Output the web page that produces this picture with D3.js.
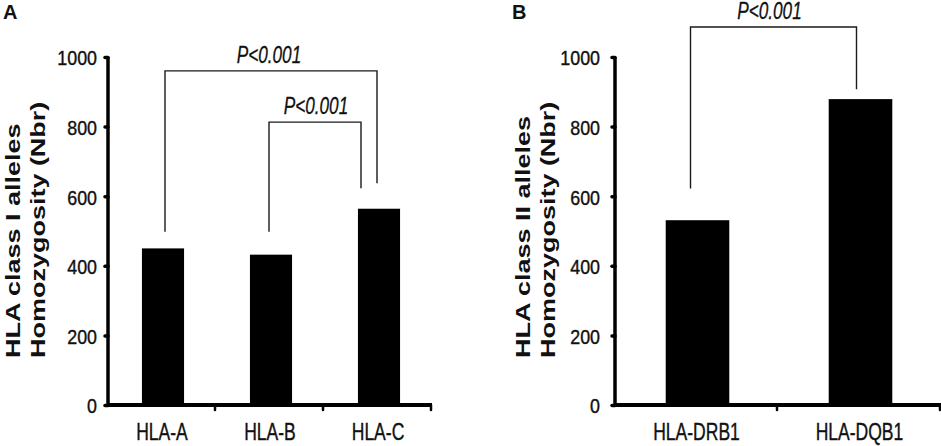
<!DOCTYPE html>
<html>
<head>
<meta charset="utf-8">
<script src="https://cdn.jsdelivr.net/npm/d3@7"></script>
<style>
  html, body { margin: 0; padding: 0; background: #fff; }
  svg { display: block; }
  text { font-family: "Liberation Sans", Arial, sans-serif; fill: #111; }
</style>
</head>
<body>
<svg id="chart" width="941" height="446"></svg>
<script>
// ---- data ----
const classICategories = ["HLA-A", "HLA-B", "HLA-C"];
const classIValues = [450, 432, 564];
const classIICategories = ["HLA-DRB1", "HLA-DQB1"];
const classIIValues = [531, 879];
const yTickValues = [0, 200, 400, 600, 800, 1000];
const pLabel = "P<0.001";
// brackets: [fromCategory, toCategory, leftLegBottom, rightLegBottom, barTop] in data units
const classIBrackets = [["HLA-A", "HLA-C", 498, 637, 960], ["HLA-B", "HLA-C", 498, 623, 813]];
const classIIBrackets = [["HLA-DRB1", "HLA-DQB1", 622, 907, 1086]];

const svg = d3.select("#chart");

function panel(opts) {
  const g = svg.append("g");
  const x = d3.scaleBand().domain(opts.cats).range([opts.x0, opts.x1]).padding(0);
  const y = d3.scaleLinear().domain([0, 1000]).range([405, 57]);
  const barW = x.bandwidth() * 0.39;

  // bars
  g.selectAll("rect.bar").data(opts.vals).join("rect")
    .attr("class", "bar")
    .attr("x", (d, i) => x(opts.cats[i]) + x.bandwidth() / 2 - barW / 2 + 1)
    .attr("width", barW)
    .attr("y", d => y(d))
    .attr("height", d => y(0) - y(d))
    .attr("fill", "#000");

  // y axis
  const ya = g.append("g").attr("transform", `translate(${opts.x0},0)`)
    .call(d3.axisLeft(y).tickValues(yTickValues).tickSize(3).tickPadding(8).tickFormat(d3.format("d")));
  ya.select(".domain").attr("stroke", "#000").attr("stroke-width", 3.5).attr("d", `M0,${y(1000)}V${y(0)}`);
  ya.selectAll(".tick line").attr("stroke", "#000").attr("stroke-width", 3.5).attr("stroke-linecap", "round");
  ya.selectAll(".tick text")
    .style("font-family", '"Liberation Sans", Arial, sans-serif')
    .attr("font-size", 21).attr("fill", "#111").attr("dy", "0.38em")
    .attr("stroke", "#111").attr("stroke-width", 0.4)
    .attr("transform", `translate(${opts.tickShift},0) scale(0.85,1)`)
    .attr("x", 0);

  // x axis
  const xa = g.append("g").attr("transform", `translate(0,${y(0)})`)
    .call(d3.axisBottom(x).tickSize(0).tickPadding(18));
  xa.select(".domain").attr("stroke", "#000").attr("stroke-width", 4).attr("d", `M${opts.x0},0H${opts.x1}`);
  xa.selectAll(".tick text")
    .style("font-family", '"Liberation Sans", Arial, sans-serif')
    .attr("font-size", 24).attr("fill", "#111")
    .attr("stroke", "#111").attr("stroke-width", 0.4)
    .attr("transform", `scale(0.73,1)`);
  // boundary ticks on x axis
  const bounds = opts.cats.map(c => x(c) + x.bandwidth());
  g.selectAll("line.xt").data(bounds).join("line")
    .attr("class", "xt")
    .attr("x1", d => d - 1).attr("x2", d => d - 1)
    .attr("y1", y(0)).attr("y2", y(0) + 5)
    .attr("stroke", "#000").attr("stroke-width", 2.5).attr("stroke-linecap", "round");

  // y label (two lines, rotated)
  opts.ylabel.forEach((line, i) => {
    g.append("text")
      .attr("transform", `translate(${opts.labelX[i]},358) scale(0.77,1) rotate(-90)`)
      .attr("font-size", 27).attr("font-weight", "bold").attr("fill", "#111")
      .attr("text-anchor", "start")
      .text(line);
  });

  // panel letter
  g.append("text").attr("x", opts.letterX).attr("y", 19)
    .attr("font-size", 20).attr("font-weight", "bold").text(opts.letter);

  // brackets
  opts.brackets.forEach((b, k) => {
    const xl = x(b[0]) + x.bandwidth() / 2 + opts.legOff[k][0];
    const xr = x(b[1]) + x.bandwidth() / 2 + opts.legOff[k][1];
    const path = d3.path();
    path.moveTo(xl, y(b[2]));
    path.lineTo(xl, y(b[4]));
    path.lineTo(xr, y(b[4]));
    path.lineTo(xr, y(b[3]));
    g.append("path").attr("d", path.toString()).attr("fill", "none")
      .attr("stroke", "#1a1a1a").attr("stroke-width", 1.4);
    const cx = (xl + xr) / 2 + opts.labelOff[k];
    g.append("text")
      .attr("transform", `translate(${cx},${y(b[4]) - 8}) scale(0.78,1.05)`)
      .attr("text-anchor", "middle").attr("font-size", 22).attr("font-style", "italic")
      .attr("stroke", "#111").attr("stroke-width", 0.3)
      .text(pLabel);
  });
}

panel({
  cats: classICategories, vals: classIValues, x0: 108, x1: 432,
  ylabel: ["HLA class I alleles", "Homozygosity (Nbr)"], labelX: [20, 45],
  letter: "A", letterX: 3, brackets: classIBrackets, tickShift: -11,
  legOff: [[3, -1], [-1, -17]], labelOff: [-2, 1]
});
panel({
  cats: classIICategories, vals: classIIValues, x0: 615, x1: 941,
  ylabel: ["HLA class II alleles", "Homozygosity (Nbr)"], labelX: [530, 555],
  letter: "B", letterX: 512, brackets: classIIBrackets, tickShift: -15,
  legOff: [[-6, -3]], labelOff: [-4]
});
</script>
</body>
</html>
